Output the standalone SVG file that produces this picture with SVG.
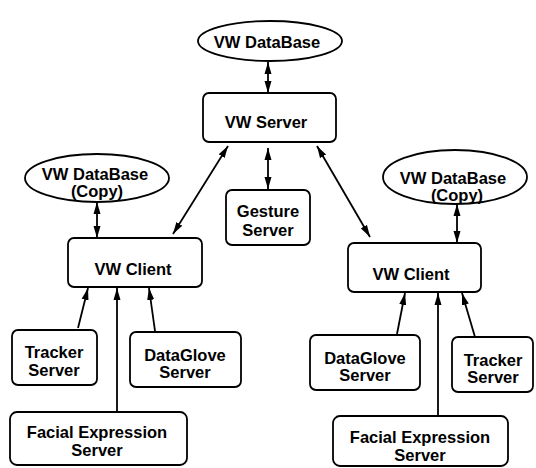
<svg xmlns="http://www.w3.org/2000/svg" width="536" height="468" viewBox="0 0 536 468">
<style>
.n{fill:#fff;stroke:#000;stroke-width:1.8}
.t{font-family:"Liberation Sans",Arial,sans-serif;font-weight:bold;font-size:16.5px;fill:#000;text-anchor:middle}
.c line{stroke:#000;stroke-width:1.8}
.d{marker-start:url(#ah);marker-end:url(#ah)}
.s{marker-end:url(#ah)}
</style>
<defs>
<marker id="ah" markerUnits="userSpaceOnUse" markerWidth="13" markerHeight="8" refX="12" refY="4" orient="auto-start-reverse">
<path d="M0,0.5 L12,4 L0,7.5 z" fill="#000"/>
</marker>
</defs>
<rect width="536" height="468" fill="#fff"/>
<g class="c" id="connectors">
<line class="d" x1="268" y1="62" x2="268" y2="93"/>
<line class="d" x1="268" y1="148" x2="268" y2="189"/>
<line class="d" x1="228" y1="146" x2="173" y2="234"/>
<line class="d" x1="317" y1="146" x2="370" y2="237"/>
<line class="d" x1="97" y1="202" x2="97" y2="238"/>
<line class="d" x1="457" y1="204" x2="457" y2="243"/>
<line class="s" x1="78" y1="328" x2="88" y2="288"/>
<line class="s" x1="117" y1="412" x2="117" y2="288"/>
<line class="s" x1="155" y1="331" x2="149" y2="288"/>
<line class="s" x1="397" y1="334" x2="405" y2="293"/>
<line class="s" x1="438" y1="416" x2="438" y2="293"/>
<line class="s" x1="475" y1="337" x2="462" y2="293"/>
</g>
<g id="db-top">
<ellipse class="n" cx="270" cy="41" rx="72" ry="20"/>
<text class="t" x="267" y="48">VW DataBase</text>
</g>
<g id="vw-server">
<rect class="n" x="203" y="93" width="133" height="49" rx="6"/>
<text class="t" x="266" y="128">VW Server</text>
</g>
<g id="gesture">
<rect class="n" x="226" y="190" width="84" height="55" rx="6"/>
<text class="t" x="268" y="217">Gesture</text>
<text class="t" x="268" y="236">Server</text>
</g>
<g id="db-left">
<ellipse class="n" cx="97" cy="178" rx="72" ry="24"/>
<text class="t" x="95" y="180">VW DataBase</text>
<text class="t" x="97" y="197">(Copy)</text>
</g>
<g id="client-left">
<rect class="n" x="68" y="238" width="134" height="49" rx="6"/>
<text class="t" x="133" y="275">VW Client</text>
</g>
<g id="db-right">
<ellipse class="n" cx="455" cy="177" rx="72" ry="27"/>
<text class="t" x="453" y="184">VW DataBase</text>
<text class="t" x="457" y="201">(Copy)</text>
</g>
<g id="client-right">
<rect class="n" x="348" y="243" width="133" height="49" rx="6"/>
<text class="t" x="411" y="280">VW Client</text>
</g>
<g id="tracker-left">
<rect class="n" x="12" y="330" width="85" height="55" rx="6"/>
<text class="t" x="54" y="358">Tracker</text>
<text class="t" x="54" y="376">Server</text>
</g>
<g id="dataglove-left">
<rect class="n" x="130" y="332" width="111" height="55" rx="6"/>
<text class="t" x="185" y="361">DataGlove</text>
<text class="t" x="185" y="378">Server</text>
</g>
<g id="facial-left">
<rect class="n" x="10" y="412" width="177" height="53" rx="7"/>
<text class="t" x="97" y="438">Facial Expression</text>
<text class="t" x="97" y="456">Server</text>
</g>
<g id="dataglove-right">
<rect class="n" x="310" y="335" width="110" height="55" rx="6"/>
<text class="t" x="365" y="364">DataGlove</text>
<text class="t" x="365" y="381">Server</text>
</g>
<g id="tracker-right">
<rect class="n" x="452" y="337" width="81" height="55" rx="6"/>
<text class="t" x="493" y="366">Tracker</text>
<text class="t" x="493" y="383">Server</text>
</g>
<g id="facial-right">
<rect class="n" x="333" y="416" width="175" height="50" rx="7"/>
<text class="t" x="420" y="443">Facial Expression</text>
<text class="t" x="420" y="461">Server</text>
</g>
</svg>
